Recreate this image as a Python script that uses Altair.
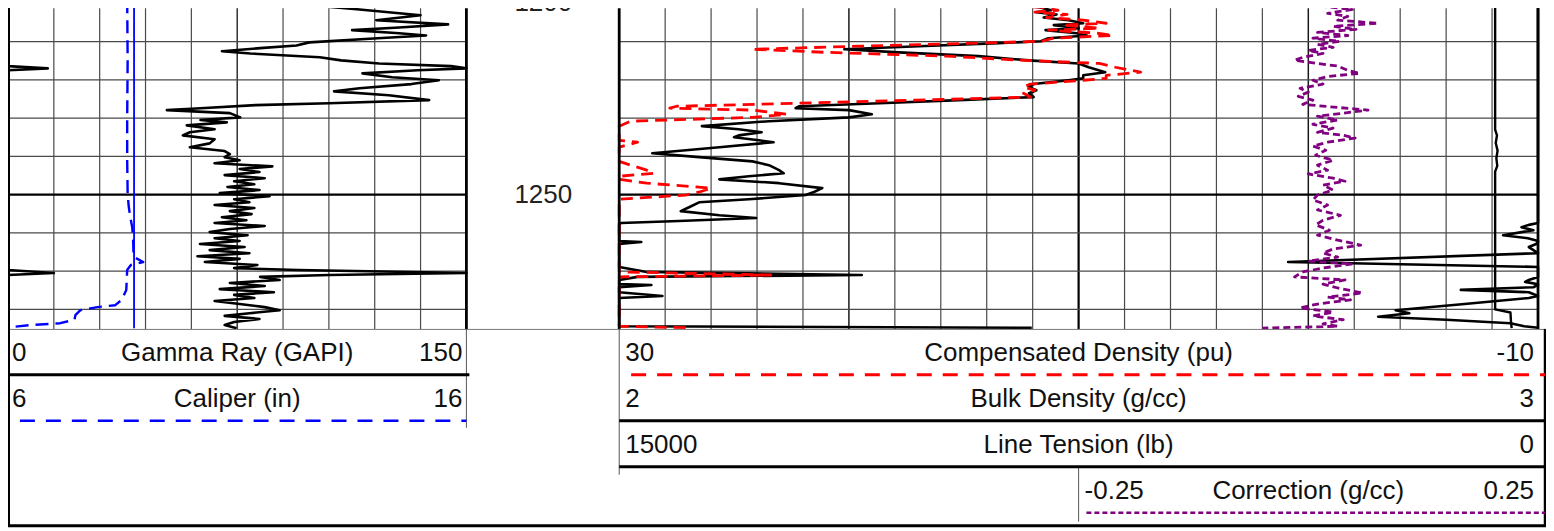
import altair as alt
import pandas as pd

FONT = "Liberation Sans"
W, H = 1540, 520
PLOT_H = 321
D_TOP, D_BOT = 1201.3, 1285.1
LEFT_PX = [0, 459]
RIGHT_PX = [612, 1532]
CORR_PX = [1072, 1532]
ROW_PX = [321, 505]

# ---------------- data ----------------
gr_depth = [1199.2, 1200.0, 1201.6, 1203.1, 1204.4, 1205.5, 1206.3, 1207.0, 1207.8, 1208.4,
            1209.1, 1210.2, 1211.0, 1211.7, 1212.5, 1213.1, 1214.1, 1214.9, 1215.7, 1216.4,
            1217.0, 1217.5, 1218.3, 1219.3, 1220.1, 1221.1, 1222.2, 1223.0, 1224.0, 1225.3,
            1226.1, 1226.6, 1227.4, 1227.9, 1228.7, 1229.8, 1230.5, 1231.1, 1231.9, 1232.9,
            1233.7, 1234.5, 1235.5, 1236.6, 1237.6, 1238.6, 1239.4, 1240.2, 1241.0, 1241.8,
            1242.6, 1243.3, 1244.1, 1244.9, 1245.7, 1246.5, 1247.3, 1248.0, 1248.8, 1249.6,
            1250.4, 1251.2, 1252.0, 1252.7, 1253.5, 1254.3, 1255.1, 1255.9, 1256.7, 1257.4,
            1258.2, 1259.0, 1259.8, 1260.6, 1261.4, 1262.1, 1262.9, 1263.7, 1264.5, 1265.3,
            1266.1, 1266.8, 1267.6, 1268.4, 1269.2, 1269.7, 1270.5, 1271.0, 1271.5, 1272.3,
            1273.1, 1273.9, 1274.7, 1275.5, 1276.2, 1277.0, 1277.8, 1278.6, 1279.4, 1280.2,
            1281.0, 1281.7, 1282.5, 1283.3, 1284.1, 1284.9]
gr = [90.5, 92.0, 115.0, 135.0, 120.5, 144.0, 128.0, 112.6, 128.0, 136.8,
      121.0, 98.6, 94.4, 82.5, 70.0, 79.3, 102.0, 109.0, 121.4, 145.0,
      163.0, 134.0, 116.0, 125.7, 141.0, 132.0, 115.0, 106.7, 124.6, 137.8,
      105.0, 81.0, 63.0, 52.0, 72.6, 76.0, 63.0, 71.6, 58.5, 67.6,
      59.5, 57.2, 67.6, 66.0, 59.5, 70.9, 72.6, 70.9, 75.8, 67.6,
      86.5, 75.8, 82.3, 70.9, 84.0, 74.0, 80.6, 71.8, 82.3, 69.3,
      85.6, 74.0, 79.0, 67.6, 80.6, 72.6, 79.7, 70.0, 78.0, 67.6,
      84.0, 72.6, 66.0, 78.4, 67.6, 75.8, 62.8, 77.4, 66.0, 79.0,
      62.0, 75.8, 64.4, 81.6, 74.0, 95.0, 165.0, 105.0, 82.5, 88.9,
      72.6, 84.0, 69.3, 87.0, 74.0, 80.6, 67.6, 75.8, 84.0, 88.9,
      79.0, 70.9, 82.3, 74.0, 70.9, 74.8]

cal_depth = [1199.2, 1214.9, 1230.5, 1241.0, 1249.6, 1252.7, 1255.4, 1258.5, 1261.9, 1266.3,
             1267.6, 1268.4, 1269.7, 1274.9, 1277.5, 1278.9, 1279.4, 1280.2, 1281.5, 1282.7,
             1283.6, 1284.1, 1284.7, 1284.9]
cal = [8.60, 8.61, 8.60, 8.60, 8.61, 8.63, 8.66, 8.71, 8.73, 8.74,
       8.95, 8.68, 8.60, 8.58, 8.48, 8.34, 7.95, 7.58, 7.47, 7.45,
       7.14, 6.49, 6.01, 5.84]

bs_depth = [1199.2, 1284.9]
bs = [8.75, 8.75]

bd_depth = [1199.2, 1200.0, 1201.0, 1201.8, 1202.3, 1202.9, 1203.7, 1204.4, 1205.2, 1205.7,
            1206.5, 1207.0, 1207.8, 1208.4, 1209.1, 1209.9, 1210.4, 1211.2, 1212.0, 1212.8,
            1213.8, 1214.9, 1215.7, 1216.7, 1218.0, 1218.8, 1219.6, 1220.1, 1221.1, 1221.9,
            1222.7, 1223.5, 1224.5, 1225.3, 1226.1, 1226.9, 1227.4, 1227.9, 1229.0, 1229.8,
            1230.8, 1232.1, 1232.9, 1233.7, 1234.5, 1235.0, 1235.8, 1236.3, 1237.6, 1239.2,
            1240.2, 1241.3, 1242.3, 1243.6, 1244.4, 1245.2, 1246.0, 1247.0, 1248.3, 1249.3,
            1250.1, 1251.2, 1252.0, 1253.3, 1254.3, 1255.4, 1256.1, 1256.9, 1257.4, 1257.9,
            1258.5, 1259.3, 1260.6, 1261.4, 1262.1, 1262.4, 1262.9, 1263.7, 1265.3, 1267.6,
            1268.9, 1270.2, 1271.0, 1271.5, 1272.3, 1272.8, 1273.4, 1273.6, 1274.2, 1274.9,
            1275.5, 1276.5, 1277.0, 1278.6, 1280.2, 1281.0, 1281.9, 1282.7, 1283.6, 1284.4,
            1284.8]
bd = [2.397, 2.413, 2.457, 2.470, 2.454, 2.476, 2.462, 2.489, 2.505, 2.473,
      2.500, 2.464, 2.498, 2.509, 2.467, 2.459, 2.413, 2.326, 2.245, 2.304,
      2.391, 2.446, 2.500, 2.511, 2.529, 2.505, 2.505, 2.489, 2.451, 2.446,
      2.454, 2.446, 2.451, 2.370, 2.283, 2.196, 2.192, 2.250, 2.275, 2.250,
      2.163, 2.090, 2.130, 2.155, 2.130, 2.125, 2.152, 2.168, 2.109, 2.036,
      2.087, 2.145, 2.163, 2.174, 2.179, 2.141, 2.109, 2.174, 2.221, 2.212,
      2.203, 2.141, 2.087, 2.076, 2.067, 2.109, 2.149, 2.065, 2.002, 1.990,
      1.982, 1.995, 1.962, 1.989, 2.000, 2.024, 1.998, 1.990, 2.000, 1.728,
      2.000, 2.030, 2.264, 2.020, 1.990, 1.986, 2.000, 2.035, 1.995, 1.916,
      1.990, 2.047, 1.990, 1.920, 1.845, 1.860, 1.826, 1.900, 1.970, 1.985,
      2.449]
dphi = [15.3, 14.4, 11.7, 10.9, 11.9, 10.5, 11.4, 9.8, 8.8, 10.7,
        9.1, 11.3, 9.2, 8.5, 11.1, 11.6, 14.4, 19.6, 24.2, 21.0,
        15.7, 12.4, 9.1, 8.4, 7.3, 8.8, 8.8, 9.8, 12.1, 12.4,
        11.9, 12.4, 12.1, 17.0, 22.2, 27.5, 27.8, 24.2, 22.7, 24.2,
        29.5, 33.9, 31.5, 30.0, 31.5, 31.8, 30.2, 29.2, 32.8, 37.2,
        34.1, 30.6, 29.5, 28.8, 28.5, 30.8, 32.8, 28.8, 26.0, 26.5,
        27.1, 30.8, 34.1, 34.8, 35.3, 32.8, 30.4, 35.5, 39.3, 40.0,
        40.5, 39.7, 41.7, 40.1, 39.4, 37.9, 39.5, 40.0, 39.4, 55.9,
        39.4, 37.6, 23.4, 38.2, 40.0, 40.2, 39.4, 37.3, 39.7, 44.5,
        40.0, 36.5, 40.0, 44.2, 48.8, 47.9, 49.9, 45.5, 41.2, 40.3,
        27.0]

ten_depth = [1199.2, 1233.0, 1234.5, 1236.5, 1238.5, 1240.5, 1242.5, 1244.0, 1280.0, 1280.8,
             1283.5, 1284.9]
ten = [700, 700, 670, 690, 660, 680, 665, 700, 700, 450, 440, 430]

corr_depth = [1199.2, 1200.0, 1200.8, 1201.6, 1202.6, 1203.4, 1204.4, 1205.2, 1206.0, 1206.8,
              1207.6, 1208.4, 1209.1, 1209.9, 1210.7, 1211.5, 1212.3, 1213.1, 1214.1, 1214.9,
              1215.7, 1216.4, 1217.5, 1218.3, 1219.1, 1220.1, 1221.1, 1222.2, 1223.2, 1224.3,
              1225.3, 1226.4, 1227.2, 1227.9, 1228.7, 1229.5, 1230.5, 1231.6, 1232.6, 1233.7,
              1234.5, 1235.2, 1236.3, 1237.3, 1238.4, 1239.7, 1241.0, 1242.3, 1243.6, 1244.6,
              1245.7, 1246.5, 1247.5, 1248.8, 1250.1, 1251.4, 1252.7, 1254.0, 1255.4, 1256.7,
              1257.9, 1259.3, 1260.6, 1261.9, 1263.2, 1264.2, 1265.3, 1266.3, 1267.4, 1268.1,
              1269.2, 1270.2, 1271.5, 1272.3, 1273.4, 1274.4, 1275.7, 1276.8, 1277.5, 1278.6,
              1279.6, 1280.7, 1281.7, 1282.7, 1283.8, 1284.4, 1284.9]
corr = [0.021, 0.038, 0.016, 0.048, 0.021, 0.043, 0.032, 0.076, 0.027, 0.052,
        0.010, 0.043, 0.005, 0.034, 0.010, 0.027, 0.000, 0.016, -0.006, -0.015,
        0.010, 0.032, 0.043, 0.056, 0.021, 0.005, 0.016, -0.009, 0.000, -0.011,
        0.005, -0.006, 0.032, 0.065, 0.038, 0.010, 0.032, 0.005, 0.027, 0.010,
        0.038, 0.051, 0.021, 0.005, 0.019, 0.008, 0.027, 0.010, 0.021, 0.000,
        0.027, 0.040, 0.016, 0.027, 0.010, 0.005, 0.021, 0.010, 0.035, 0.016,
        0.008, 0.023, 0.010, 0.032, 0.057, 0.027, 0.016, 0.032, 0.000, 0.048,
        0.016, -0.006, -0.015, 0.040, 0.016, 0.032, 0.059, 0.021, 0.046, 0.010,
        -0.009, 0.027, 0.005, 0.038, 0.016, 0.032, -0.050]

depth_labels = [1200, 1250]
grid_minor_depths = [1210, 1220, 1230, 1240, 1260, 1270, 1280]
grid_major_depths = [1200, 1250]

hdr_track = ["left", "left", "right", "right", "right", "corr"]
hdr_row = [1, 2, 1, 2, 3, 4]
hdr_lo = ["0", "6", "30", "2", "15000", "-0.25"]
hdr_title = ["Gamma Ray (GAPI)", "Caliper (in)", "Compensated Density (pu)",
             "Bulk Density (g/cc)", "Line Tension (lb)", "Correction (g/cc)"]
hdr_hi = ["150", "16", "-10", "3", "0", "0.25"]
leg_f0 = [0.0, 0.026, 0.013, 0.0, 0.0, 0.017]
leg_f1 = [1.0065, 1.0, 1.0076, 1.0076, 1.0076, 1.015]
leg_color = ["black", "#0000ff", "#ff0000", "black", "black", "#800080"]
leg_dash = [None, [15, 11], [15, 11], None, None, [5, 3]]
leg_width = [3, 2.5, 3, 3, 3, 2.5]

TRACK_PX = {"left": LEFT_PX, "right": RIGHT_PX, "corr": CORR_PX}


# ---------------- helpers ----------------
def ysc():
    return alt.Scale(domain=[D_TOP, D_BOT], range=[0, PLOT_H], zero=False, nice=False)


def xsc(domain, px, clamp=True):
    return alt.Scale(domain=domain, range=px, zero=False, nice=False, clamp=clamp)


row_scale = alt.Scale(domain=[0, 4], range=ROW_PX, zero=False, nice=False)


def curve(df, field, domain, px, color, width, dash=None, calc=None):
    ch = alt.Chart(df)
    if calc:
        ch = ch.transform_calculate(**{field: calc})
    kw = dict(color=color, strokeWidth=width, strokeJoin="round")
    if dash:
        kw["strokeDash"] = dash
    return ch.mark_line(**kw).encode(
        x=alt.X(f"{field}:Q", scale=xsc(domain, px), axis=None),
        y=alt.Y("depth:Q", scale=ysc(), axis=None),
        order=alt.Order("depth:Q"),
    )


def vlines(fracs, px, color, width):
    df = pd.DataFrame({"f": fracs})
    return alt.Chart(df).mark_rule(color=color, strokeWidth=width).encode(
        x=alt.X("f:Q", scale=xsc([0, 1], px, clamp=False), axis=None),
        y=alt.value(0), y2=alt.value(PLOT_H))


def hlines(depths, px, color, width):
    df = pd.DataFrame({"depth": depths})
    return alt.Chart(df).mark_rule(color=color, strokeWidth=width).encode(
        y=alt.Y("depth:Q", scale=ysc(), axis=None),
        x=alt.value(px[0]), x2=alt.value(px[1]))


def seg(x0, x1, y0, y1, color="black", width=1.0):
    df = pd.DataFrame({"k": [0]})
    return alt.Chart(df).mark_rule(color=color, strokeWidth=width).encode(
        x=alt.value(x0), x2=alt.value(x1), y=alt.value(y0), y2=alt.value(y1))


layers = []

# grid: left track
left_minor = [i / 10 for i in range(1, 10) if i != 5]
layers.append(vlines(left_minor, LEFT_PX, "#4a4a4a", 1.2))
layers.append(vlines([0.5], LEFT_PX, "#222222", 1.4))
# grid: right track
right_minor = [i / 20 for i in range(1, 20) if i % 5 != 0]
layers.append(vlines(right_minor, RIGHT_PX, "#4a4a4a", 1.2))
layers.append(vlines([0.25, 0.75], RIGHT_PX, "#1a1a1a", 1.5))
layers.append(vlines([0.5], RIGHT_PX, "#000000", 2.2))
# horizontal grid
for px in (LEFT_PX, RIGHT_PX):
    layers.append(hlines(grid_minor_depths, px, "#4a4a4a", 1.3))
    layers.append(hlines(grid_major_depths, px, "#000000", 2.4))

# curves
gr_df = pd.DataFrame({"depth": gr_depth, "gr": gr})
cal_df = pd.DataFrame({"depth": cal_depth, "cal": cal})
bs_df = pd.DataFrame({"depth": bs_depth, "bs": bs})
bd_df = pd.DataFrame({"depth": bd_depth, "bd": bd, "dphi": dphi})
ten_df = pd.DataFrame({"depth": ten_depth, "ten": ten})
corr_df = pd.DataFrame({"depth": corr_depth, "corr": corr})

layers.append(curve(bs_df, "bs", [6, 16], LEFT_PX, "#0000ff", 1.8))
layers.append(curve(cal_df, "cal", [6, 16], LEFT_PX, "#0000ff", 2.4, dash=[13, 7]))
layers.append(curve(gr_df, "gr", [0, 150], LEFT_PX, "black", 2.6))
layers.append(curve(gr_df, "gr_wrap", [0, 150], LEFT_PX, "black", 2.6, calc="datum.gr - 150"))

layers.append(curve(ten_df, "ten", [15000, 0], RIGHT_PX, "black", 2.4))
layers.append(curve(bd_df, "bd", [2, 3], RIGHT_PX, "black", 2.6))
layers.append(curve(bd_df, "bd_wrap", [2, 3], RIGHT_PX, "black", 2.6, calc="datum.bd + 1"))
layers.append(curve(bd_df, "dphi", [30, -10], RIGHT_PX, "#ff0000", 2.8, dash=[12, 7]))
layers.append(curve(corr_df, "corr", [-0.25, 0.25], CORR_PX, "#800080", 2.8, dash=[7, 4]))

# track borders
layers.append(vlines([0, 1], LEFT_PX, "black", 2.8))
layers.append(vlines([0, 1], RIGHT_PX, "black", 2.8))

# depth labels
lab_df = pd.DataFrame({"depth": depth_labels, "label": [str(d) for d in depth_labels]})
layers.append(alt.Chart(lab_df).mark_text(fontSize=26, font=FONT, color="#222222",
                                          baseline="middle", align="center").encode(
    y=alt.Y("depth:Q", scale=ysc(), axis=None),
    x=alt.value(536),
    text="label:N"))

# header frame
layers.append(seg(0, 1539, 321.5, 321.5, "#777777", 1))
layers.append(seg(459, 459, 321, 420, "#555555", 1))
layers.append(seg(612, 612, 321, 467, "#555555", 1))
layers.append(seg(1072, 1072, 460, 514, "#555555", 1))
layers.append(seg(1539, 1539, 321, 518, "black", 2.5))
layers.append(seg(0, 1540, 518, 518, "black", 3))
layers.append(seg(0.5, 0.5, 0, 518, "black", 3))

# header texts
hdr = pd.DataFrame({"track": hdr_track, "row": hdr_row, "lo": hdr_lo,
                    "title": hdr_title, "hi": hdr_hi,
                    "f0": leg_f0, "f1": leg_f1})
for tr, px in TRACK_PX.items():
    sub = hdr[hdr.track == tr]
    base = alt.Chart(sub).transform_calculate(yc="datum.row - 0.5")
    dx_lo = 4 if tr == "left" else 6
    for field, f, align, dx in [("lo", 0, "left", dx_lo), ("title", 0.5, "center", 0),
                                ("hi", 1, "right", -4)]:
        layers.append(base.mark_text(align=align, dx=dx, dy=1, baseline="middle", fontSize=26,
                                     font=FONT, color="#111111").encode(
            x=alt.X(datum=f, scale=xsc([0, 1], px, clamp=False), axis=None),
            y=alt.Y("yc:Q", scale=row_scale, axis=None),
            text=f"{field}:N"))

# header legend lines
for i in range(len(hdr_track)):
    px = TRACK_PX[hdr_track[i]]
    row_df = hdr.iloc[[i]]
    kw = dict(color=leg_color[i], strokeWidth=leg_width[i])
    if leg_dash[i]:
        kw["strokeDash"] = leg_dash[i]
    layers.append(alt.Chart(row_df).mark_rule(**kw).encode(
        x=alt.X("f0:Q", scale=xsc([0, 1], px, clamp=False), axis=None),
        x2="f1:Q",
        y=alt.Y("row:Q", scale=row_scale, axis=None)))

chart = alt.layer(*layers).resolve_scale(x="independent", y="independent").properties(
    width=W, height=H, padding=0, autosize=alt.AutoSizeParams(type="none"),
    background="white"
).configure_view(stroke=None)

chart.save("out.html", embed_options={"renderer": "svg", "actions": False})
